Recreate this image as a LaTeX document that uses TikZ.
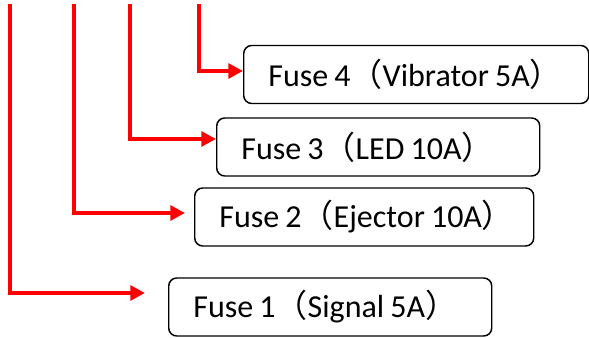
\documentclass[tikz,border=0pt]{standalone}
\usepackage{fontspec}
\setmainfont{Carlito}[WordSpace=0.85]
\newfontfamily\cjk{Noto Sans CJK SC}
\usepackage{xcolor}
\definecolor{cRed}{HTML}{FF0000}
\usepackage{tikz}
\usetikzlibrary{arrows.meta, positioning, calc}
\newcommand{\lp}{{\cjk （}}
\newcommand{\rp}{{\cjk ）}}
\newcommand{\fusetext}[2]{\makebox[#1][l]{#2}}
\tikzset{
  fuse/.style  = {rectangle, draw=black, line width=1.1pt, rounded corners=6pt,
                  anchor=west, minimum height=43.5pt, inner xsep=18.5pt,
                  font=\fontsize{24}{27}\selectfont},
  feed/.style  = {-{Triangle[length=11pt, width=11pt]}, draw=cRed,
                  line width=3pt},
}

\begin{document}
\begin{tikzpicture}[x=0.75pt, y=-0.75pt]

  \useasboundingbox (0,0) rectangle (589,338);

  %% --- Fuse boxes ---
  \node[fuse] (f4) at (243,74.5) {\fusetext{221.75pt}{Fuse 4\lp Vibrator 5A\rp}};
  \node[fuse] (f3) at (216,147)  {\fusetext{205.25pt}{Fuse 3\lp LED 10A\rp}};
  \node[fuse] (f2) at (194,217)  {\fusetext{217.25pt}{Fuse 2\lp Ejector 10A\rp}};
  \node[fuse] (f1) at (168,307)  {\fusetext{205.25pt}{Fuse 1\lp Signal 5A\rp}};

  %% --- Feed lines from the top ---
  \coordinate (top1) at (10,4);
  \coordinate (top2) at (74,4);
  \coordinate (top3) at (130,4);
  \coordinate (top4) at (199,4);

  %% --- Arrows ---
  \draw[feed] (top1) |- ($(f1.west)+(-23,-14)$);
  \draw[feed] (top2) |- ($(f2.west)+(-9,-4)$);
  \draw[feed] (top3) |- ($(f3.west)+(0,-8)$);
  \draw[feed] (top4) |- ($(f4.west)+(0,-3.5)$);

\end{tikzpicture}
\end{document}
